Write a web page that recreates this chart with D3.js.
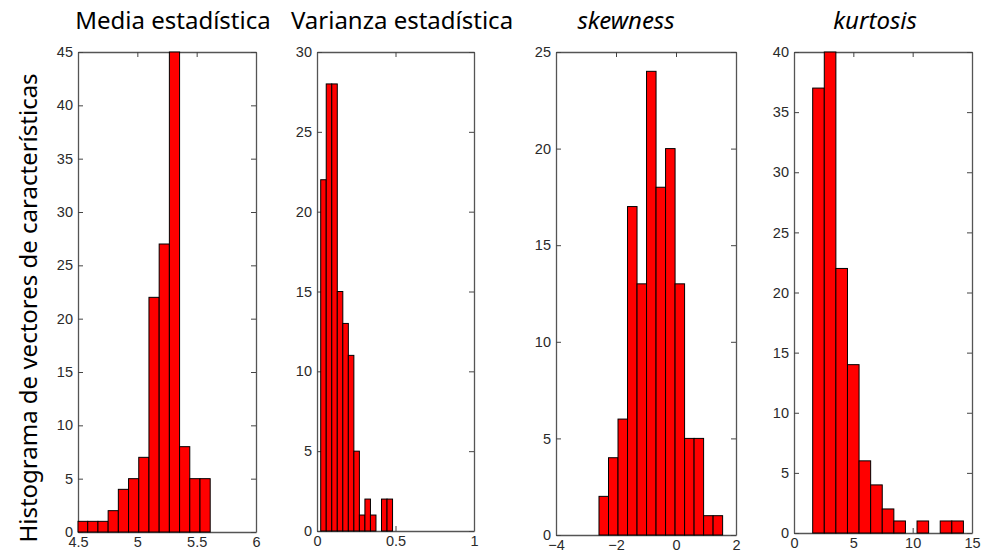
<!DOCTYPE html>
<html>
<head>
<meta charset="utf-8">
<script src="https://cdn.jsdelivr.net/npm/d3@7"></script>
<style>
  body { margin: 0; background: #fff; }
  svg { display: block; }
</style>
</head>
<body>
<svg id="chart"></svg>
<script>
// histogram counts per panel (bins are equal width, start/width in data units)
const mediaCounts = [1, 1, 1, 2, 4, 5, 7, 22, 27, 45, 8, 5, 5];
const mediaBins = { start: 4.496, width: 0.086 };
const mediaXTicks = [4.5, 5, 5.5, 6];

const varianzaCounts = [22, 28, 28, 15, 13, 11, 5, 1, 2, 1, 0, 2, 2];
const varianzaBins = { start: 0.0236, width: 0.0352 };
const varianzaXTicks = [0, 0.5, 1];

const skewCounts = [2, 4, 6, 17, 13, 24, 18, 20, 13, 5, 5, 1, 1];
const skewBins = { start: -2.567, width: 0.317 };
const skewXTicks = [-4, -2, 0, 2];

const kurtCounts = [37, 40, 22, 14, 6, 4, 2, 1, 0, 1, 0, 1, 1];
const kurtBins = { start: 1.575, width: 0.977 };
const kurtXTicks = [0, 5, 10, 15];

const titles = ["Media estadística", "Varianza estadística", "skewness", "kurtosis"];
const yLabel = "Histograma de vectores de características";

const width = 982;
const height = 559;

const panels = [
  { title: titles[0], italic: false, counts: mediaCounts, bins: mediaBins, xDomain: [4.5, 6], xTicks: mediaXTicks, yMax: 45,
    left: 78, right: 256, top: 52, bottom: 532, titleX: 173 },
  { title: titles[1], italic: false, counts: varianzaCounts, bins: varianzaBins, xDomain: [0, 1], xTicks: varianzaXTicks, yMax: 30,
    left: 317, right: 474, top: 52, bottom: 531, titleX: 402 },
  { title: titles[2], italic: true, counts: skewCounts, bins: skewBins, xDomain: [-4, 2], xTicks: skewXTicks, yMax: 25,
    left: 556, right: 736, top: 52, bottom: 535, titleX: 626 },
  { title: titles[3], italic: true, counts: kurtCounts, bins: kurtBins, xDomain: [0, 15], xTicks: kurtXTicks, yMax: 40,
    left: 794, right: 972, top: 52, bottom: 533, titleX: 875 }
];

const svg = d3.select('#chart').attr('width', width).attr('height', height);

svg.append('text')
  .attr('transform', 'translate(37,308) rotate(-90)')
  .attr('text-anchor', 'middle')
  .attr('font-family', 'Noto Sans, Open Sans, sans-serif')
  .attr('font-size', 24)
  .attr('fill', '#000')
  .text(yLabel);

panels.forEach(p => {
  const x = d3.scaleLinear().domain(p.xDomain).range([p.left, p.right]);
  const y = d3.scaleLinear().domain([0, p.yMax]).range([p.bottom, p.top]);
  const yTicks = d3.range(0, p.yMax + 1, 5);
  const g = svg.append('g');

  // box with inward ticks, like matlab
  const axes = [
    { ax: d3.axisBottom(x).tickValues(p.xTicks).tickFormat(d3.format('')), at: `translate(0,${p.bottom})` },
    { ax: d3.axisTop(x).tickValues(p.xTicks).tickFormat(''), at: `translate(0,${p.top})` },
    { ax: d3.axisLeft(y).tickValues(yTicks).tickFormat(d3.format('')), at: `translate(${p.left},0)` },
    { ax: d3.axisRight(y).tickValues(yTicks).tickFormat(''), at: `translate(${p.right},0)` }
  ];
  axes.forEach(a => {
    const ag = g.append('g')
      .attr('transform', a.at)
      .call(a.ax.tickSizeInner(-5).tickSizeOuter(0).tickPadding(5));
    ag.select('.domain').attr('stroke', '#555').attr('stroke-width', 1.3);
    ag.selectAll('.tick line').attr('stroke', '#444');
    ag.selectAll('.tick text')
      .attr('font-family', 'Liberation Sans, Arial, sans-serif')
      .attr('font-size', 14.5)
      .attr('fill', '#2a2a2a');
  });

  const bars = p.counts.map((c, i) => ({
    x0: Math.max(p.bins.start + i * p.bins.width, p.xDomain[0]),
    x1: p.bins.start + (i + 1) * p.bins.width,
    count: c
  })).filter(d => d.count > 0);

  g.selectAll('rect.bar')
    .data(bars)
    .enter()
    .append('rect')
    .attr('class', 'bar')
    .attr('x', d => x(d.x0))
    .attr('width', d => x(d.x1) - x(d.x0))
    .attr('y', d => y(d.count))
    .attr('height', d => y(0) - y(d.count))
    .attr('fill', '#ff0000')
    .attr('stroke', '#000')
    .attr('stroke-width', 1);

  svg.append('text')
    .attr('x', p.titleX)
    .attr('y', 29)
    .attr('text-anchor', 'middle')
    .attr('font-family', 'Noto Sans, Open Sans, sans-serif')
    .attr('font-size', 24)
    .attr('font-style', p.italic ? 'italic' : 'normal')
    .attr('fill', '#000')
    .text(p.title);
});
</script>
</body>
</html>
